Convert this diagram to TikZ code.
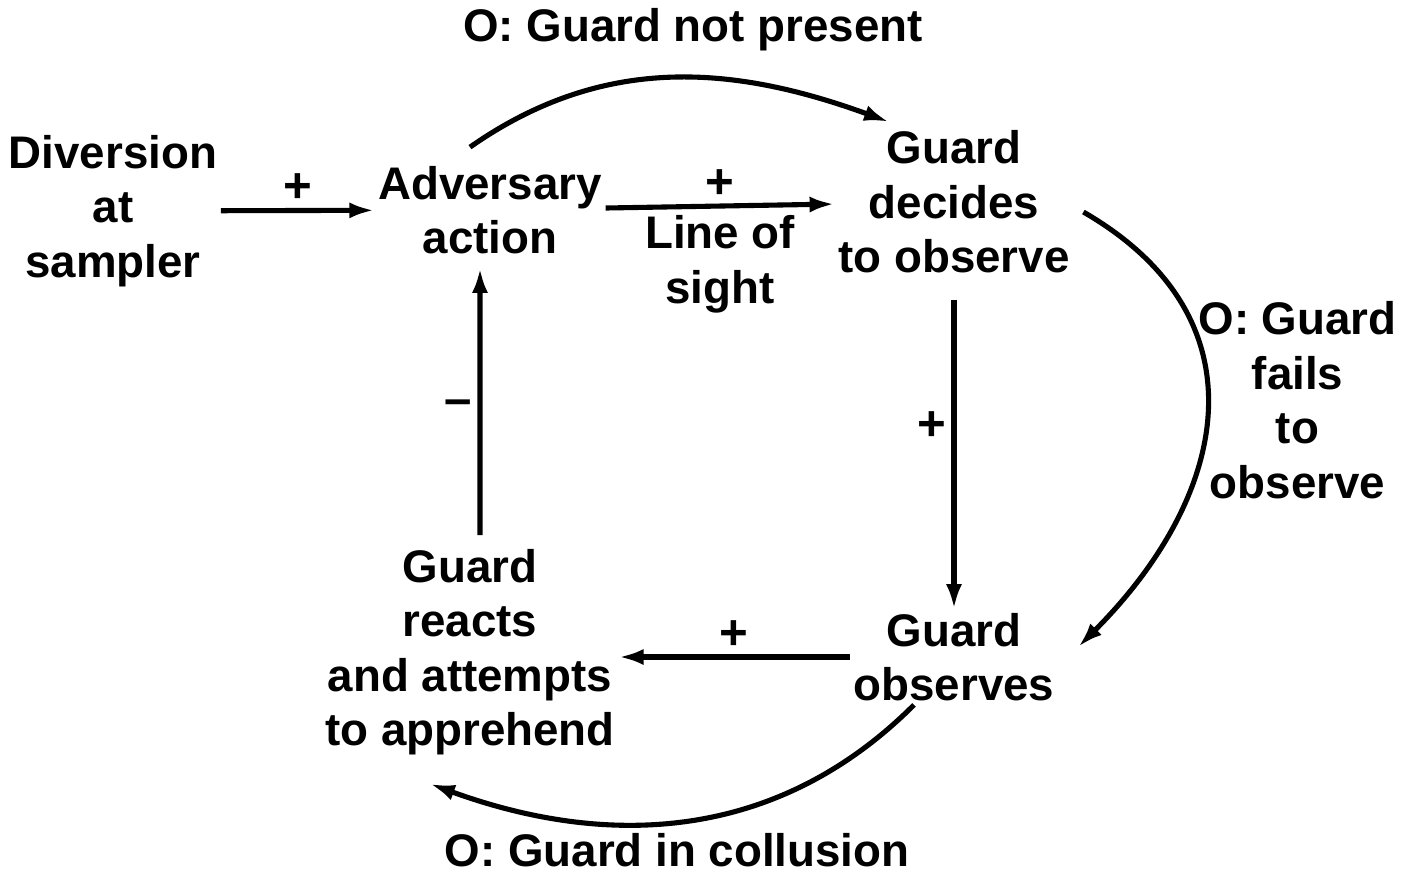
\documentclass[tikz,border=0pt]{standalone}
\usepackage{fontspec}
\setmainfont{Liberation Sans}
\usepackage{tikz}
\usetikzlibrary{arrows.meta, positioning, calc}

\begin{document}
\begin{tikzpicture}[
    txt/.style={align=center, inner sep=2pt, font=\fontsize{26}{31}\selectfont\bfseries},
    sign/.style={inner sep=3pt, font=\fontsize{28}{31}\selectfont\bfseries},
    arr/.style={line width=2.9pt, -{Latex[length=5mm, width=3.2mm]}}
]
\useasboundingbox (0,0) rectangle (28.28,-17.6);

% Nodes
\node[txt] (div) at (2.26,-4.22) {Diversion\\at\\sampler};
\node[txt] (adv) at (9.8,-4.2) {Adversary\\action};
\node[txt] (dec) at (19.08,-4.04) {Guard\\decides\\to observe};
\node[txt] (obs) at (19.08,-13.14) {Guard\\observes};
\node[txt] (react) at (9.4,-13.04) {Guard\\reacts\\and attempts\\to apprehend};

% Straight arrows
\draw[arr] (div) -- node[sign, above] {+} (adv);
\draw[arr] (adv) -- node[sign, above] {+} node[txt, below=2pt] {Line of\\sight} (dec);
\draw[arr, shorten <=0.45cm] (dec) -- node[sign, left, pos=0.45] {+} (obs);
\draw[arr] (obs.west) -- node[sign, above] {+} (react.east |- obs.west);
\draw[arr, shorten <=0.2cm, shorten >=0.2cm] ([xshift=0.2cm]react.north) -- node[sign, left, pos=0.48] {\textendash} ([xshift=-0.2cm]adv.south);

% Curved arrows
\draw[arr] ([xshift=-0.4cm, yshift=0.3cm]adv.north) to[out=35, in=160] ([xshift=-1.3cm, yshift=0.1cm]dec.north);
\draw[arr] ([xshift=0.2cm, yshift=-0.2cm]dec.east) to[out=-30, in=45, looseness=1.25] ([xshift=0.4cm, yshift=0.2cm]obs.east);
\draw[arr] ([xshift=-0.8cm]obs.south) to[out=-135, in=-20] ([xshift=-0.8cm, yshift=-0.5cm]react.south);

% Labels
\node[txt] (lnp) at (13.86,-0.6) {O: Guard not present};
\node[txt] (lfo) at (25.95,-8.0) {O: Guard\\fails\\to\\observe};
\node[txt] (lic) at (13.54,-17.0) {O: Guard in collusion};

\end{tikzpicture}
\end{document}
